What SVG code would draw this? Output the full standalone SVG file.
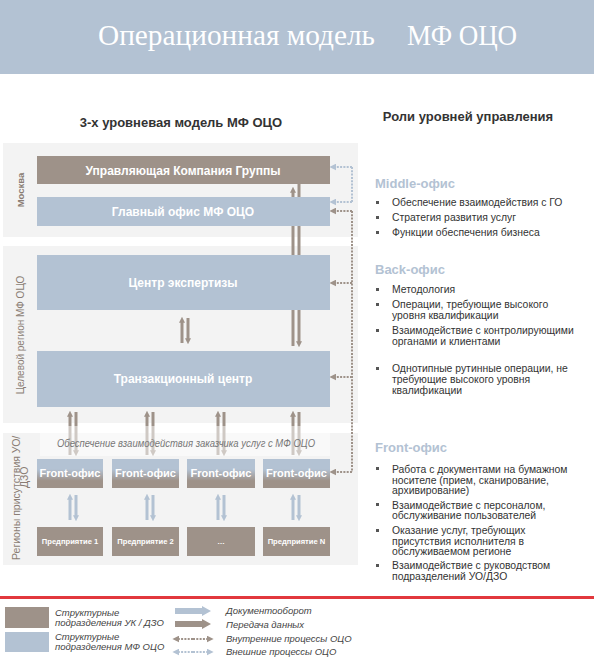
<svg xmlns="http://www.w3.org/2000/svg" width="594" height="665" viewBox="0 0 594 665">
<defs>
<style>
.sans{font-family:"Liberation Sans",Arial,sans-serif}
.band{fill:#f3f3f3}
.brown{fill:#9e9289}
.blue{fill:#b3c2d3}
.btxt{font-family:"Liberation Sans",Arial,sans-serif;font-weight:bold;fill:#fff;text-anchor:middle}
.side{font-family:"Liberation Sans",Arial,sans-serif;fill:#8a7d74}
.role{font-family:"Liberation Sans",Arial,sans-serif;font-size:10.4px;fill:#333}
.rhead{font-family:"Liberation Sans",Arial,sans-serif;font-size:13px;font-weight:bold;fill:#b3c2d3}
.bul{fill:#555}
.lb{stroke:#9e9289;stroke-width:3;fill:none}
.ll{stroke:#b3c2d3;stroke-width:3;fill:none}
.db{stroke:#9e9289;stroke-width:2;stroke-dasharray:2 1.3;fill:none}
.dl{stroke:#b3c2d3;stroke-width:2;stroke-dasharray:2 1.3;fill:none}
.leg{font-family:"Liberation Sans",Arial,sans-serif;font-size:9.5px;font-style:italic;fill:#444}
</style>
<linearGradient id="fg" x1="0" y1="0" x2="0" y2="1">
<stop offset="0" stop-color="#b3c2d3"/>
<stop offset="0.35" stop-color="#b3c2d3"/>
<stop offset="0.75" stop-color="#9e9289"/>
<stop offset="1" stop-color="#9e9289"/>
</linearGradient>
<marker id="aB" viewBox="0 0 10 10" refX="3" refY="5" markerWidth="6" markerHeight="6" markerUnits="userSpaceOnUse" orient="auto"><path d="M0,0 L10,5 L0,10 z" fill="#9e9289"/></marker>
<marker id="aL" viewBox="0 0 10 10" refX="3" refY="5" markerWidth="6" markerHeight="6" markerUnits="userSpaceOnUse" orient="auto"><path d="M0,0 L10,5 L0,10 z" fill="#b3c2d3"/></marker>
<marker id="dB" viewBox="0 0 10 10" refX="2" refY="5" markerWidth="7" markerHeight="7" markerUnits="userSpaceOnUse" orient="auto"><path d="M0,0 L10,5 L0,10 z" fill="#9e9289"/></marker>
<marker id="dL" viewBox="0 0 10 10" refX="2" refY="5" markerWidth="7" markerHeight="7" markerUnits="userSpaceOnUse" orient="auto"><path d="M0,0 L10,5 L0,10 z" fill="#b3c2d3"/></marker>
</defs>

<g id="header">
<rect x="0" y="0" width="594" height="74" fill="#b3c2d3"/>
<text x="98" y="45" font-family="'Liberation Serif','Times New Roman',serif" font-size="30" fill="#fff" textLength="277" lengthAdjust="spacingAndGlyphs">Операционная модель</text>
<text x="407" y="45" font-family="'Liberation Serif','Times New Roman',serif" font-size="30" fill="#fff" textLength="110" lengthAdjust="spacingAndGlyphs">МФ ОЦО</text>
</g>

<g id="headings" class="sans" font-weight="bold" font-size="13" fill="#333">
<text x="181" y="127" text-anchor="middle">3-х уровневая модель МФ ОЦО</text>
<text x="468" y="121" text-anchor="middle">Роли уровней управления</text>
</g>

<g id="bands">
<rect class="band" x="3" y="143" width="355" height="94"/>
<rect class="band" x="3" y="246" width="355" height="177"/>
<rect class="band" x="3" y="433" width="355" height="132"/>
<text class="side" transform="translate(24,190) rotate(-90)" font-size="9.5" font-weight="bold" text-anchor="middle">Москва</text>
<text class="side" transform="translate(24,335) rotate(-90)" font-size="10" text-anchor="middle">Целевой регион  МФ ОЦО</text>
<text class="side" transform="translate(20,560) rotate(-90)" font-size="10.5" fill="#8a8580">Регионы присутствия УО/</text>
<text class="side" transform="translate(28,488) rotate(-90)" font-size="10.5" fill="#8a8580">ДЗО</text>
</g>

<g id="connectors">
<line class="lb" x1="293" y1="346" x2="293" y2="191" marker-end="url(#aB)"/>
<line class="lb" x1="299" y1="176" x2="299" y2="343" marker-end="url(#aB)"/>
<line class="lb" x1="182" y1="343" x2="182" y2="321" marker-end="url(#aB)"/>
<line class="lb" x1="188" y1="318" x2="188" y2="340" marker-end="url(#aB)"/>
<line class="lb" x1="70" y1="455" x2="70" y2="415" marker-end="url(#aB)"/>
<line class="lb" x1="76" y1="412" x2="76" y2="452" marker-end="url(#aB)"/>
<line class="lb" x1="147" y1="455" x2="147" y2="415" marker-end="url(#aB)"/>
<line class="lb" x1="153" y1="412" x2="153" y2="452" marker-end="url(#aB)"/>
<line class="lb" x1="218" y1="455" x2="218" y2="415" marker-end="url(#aB)"/>
<line class="lb" x1="224" y1="412" x2="224" y2="452" marker-end="url(#aB)"/>
<line class="lb" x1="293" y1="455" x2="293" y2="415" marker-end="url(#aB)"/>
<line class="lb" x1="299" y1="412" x2="299" y2="452" marker-end="url(#aB)"/>
<line class="ll" x1="70" y1="520" x2="70" y2="498" marker-end="url(#aL)"/>
<line class="ll" x1="76" y1="495" x2="76" y2="517" marker-end="url(#aL)"/>
<line class="ll" x1="147" y1="520" x2="147" y2="498" marker-end="url(#aL)"/>
<line class="ll" x1="153" y1="495" x2="153" y2="517" marker-end="url(#aL)"/>
<line class="ll" x1="218" y1="520" x2="218" y2="498" marker-end="url(#aL)"/>
<line class="ll" x1="224" y1="495" x2="224" y2="517" marker-end="url(#aL)"/>
<line class="ll" x1="293" y1="520" x2="293" y2="498" marker-end="url(#aL)"/>
<line class="ll" x1="299" y1="495" x2="299" y2="517" marker-end="url(#aL)"/>
<path class="dl" d="M352,167 L352,202"/>
<line class="dl" x1="352" y1="167" x2="335" y2="167" marker-end="url(#dL)"/>
<line class="dl" x1="352" y1="202" x2="335" y2="202" marker-end="url(#dL)"/>
<path class="db" d="M352,211 L352,472"/>
<line class="db" x1="352" y1="211" x2="335" y2="211" marker-end="url(#dB)"/>
<line class="db" x1="352" y1="283" x2="335" y2="283" marker-end="url(#dB)"/>
<line class="db" x1="352" y1="377" x2="335" y2="377" marker-end="url(#dB)"/>
<line class="db" x1="352" y1="472" x2="335" y2="472" marker-end="url(#dB)"/>
</g>

<g id="uk">
<rect class="brown" x="37" y="156" width="293" height="28"/>
<text class="btxt" x="183" y="175" font-size="12">Управляющая Компания Группы</text>
</g>
<g id="go">
<rect class="blue" x="37" y="197" width="293" height="29"/>
<text class="btxt" x="183" y="216" font-size="12">Главный офис МФ ОЦО</text>
</g>
<g id="expertise">
<rect class="blue" x="37" y="255" width="293" height="55"/>
<text class="btxt" x="183" y="287" font-size="12">Центр экспертизы</text>
</g>
<g id="transaction">
<rect class="blue" x="37" y="351" width="293" height="56"/>
<text class="btxt" x="183" y="383" font-size="12">Транзакционный центр</text>
</g>

<g id="provision-label">
<rect x="40" y="426" width="290" height="30" fill="#fff" fill-opacity="0.5"/>
<text class="sans" x="186" y="447" font-size="10" font-style="italic" fill="#777" text-anchor="middle" textLength="258" lengthAdjust="spacingAndGlyphs">Обеспечение взаимодействия заказчика услуг с МФ ОЦО</text>
</g>

<g id="front1"><rect x="37" y="459" width="66" height="29" fill="url(#fg)"/><text class="btxt" x="70" y="477" font-size="11">Front-офис</text></g>
<g id="front2"><rect x="112" y="459" width="67" height="29" fill="url(#fg)"/><text class="btxt" x="145.5" y="477" font-size="11">Front-офис</text></g>
<g id="front3"><rect x="187" y="459" width="68" height="29" fill="url(#fg)"/><text class="btxt" x="221" y="477" font-size="11">Front-офис</text></g>
<g id="front4"><rect x="263" y="459" width="67" height="29" fill="url(#fg)"/><text class="btxt" x="296.5" y="477" font-size="11">Front-офис</text></g>

<g id="ent1"><rect class="brown" x="37" y="527" width="66" height="29"/><text class="btxt" x="70" y="544" font-size="7.6">Предприятие 1</text></g>
<g id="ent2"><rect class="brown" x="112" y="527" width="67" height="29"/><text class="btxt" x="145.5" y="544" font-size="7.6">Предприятие 2</text></g>
<g id="ent3"><rect class="brown" x="187" y="527" width="68" height="29"/><text class="btxt" x="221" y="544" font-size="7.6">…</text></g>
<g id="entN"><rect class="brown" x="263" y="527" width="67" height="29"/><text class="btxt" x="296.5" y="544" font-size="7.6">Предприятие N</text></g>

<g id="roles">
<text class="rhead" x="375" y="188">Middle-офис</text>
<rect class="bul" x="376" y="201" width="3" height="3"/>
<rect class="bul" x="376" y="216" width="3" height="3"/>
<rect class="bul" x="376" y="231" width="3" height="3"/>
<text class="role" x="392" y="206">Обеспечение  взаимодействия с ГО</text>
<text class="role" x="392" y="221">Стратегия развития услуг</text>
<text class="role" x="392" y="236">Функции обеспечения бизнеса</text>

<text class="rhead" x="375" y="274">Back-офис</text>
<rect class="bul" x="376" y="288" width="3" height="3"/>
<rect class="bul" x="376" y="303" width="3" height="3"/>
<rect class="bul" x="376" y="329" width="3" height="3"/>
<rect class="bul" x="376" y="367" width="3" height="3"/>
<text class="role" x="392" y="293">Методология</text>
<text class="role" x="392" y="308">Операции, требующие высокого</text>
<text class="role" x="392" y="319">уровня квалификации</text>
<text class="role" x="392" y="334">Взаимодействие с контролирующими</text>
<text class="role" x="392" y="345">органами и клиентами</text>
<text class="role" x="392" y="372">Однотипные рутинные операции, не</text>
<text class="role" x="392" y="383">требующие высокого уровня</text>
<text class="role" x="392" y="394">квалификации</text>

<text class="rhead" x="375" y="452">Front-офис</text>
<rect class="bul" x="376" y="467" width="3" height="3"/>
<rect class="bul" x="376" y="503" width="3" height="3"/>
<rect class="bul" x="376" y="529" width="3" height="3"/>
<rect class="bul" x="376" y="564" width="3" height="3"/>
<text class="role" x="392" y="473">Работа с документами на бумажном</text>
<text class="role" x="392" y="483.5">носителе (прием, сканирование,</text>
<text class="role" x="392" y="494">архивирование)</text>
<text class="role" x="392" y="508.5">Взаимодействие с персоналом,</text>
<text class="role" x="392" y="519">обслуживание пользователей</text>
<text class="role" x="392" y="534">Оказание услуг, требующих</text>
<text class="role" x="392" y="544.5">присутствия исполнителя в</text>
<text class="role" x="392" y="555">обслуживаемом регионе</text>
<text class="role" x="392" y="569">Взаимодействие с руководством</text>
<text class="role" x="392" y="579.5">подразделений УО/ДЗО</text>
</g>

<g id="divider">
<rect x="0" y="596" width="594" height="3" fill="#e2383d"/>
</g>

<g id="legend">
<rect class="brown" x="5" y="607" width="44" height="21"/>
<rect class="blue" x="5" y="632" width="44" height="20"/>
<text class="leg" x="55" y="616">Структурные</text>
<text class="leg" x="55" y="625.5">подразделения УК / ДЗО</text>
<text class="leg" x="55" y="640">Структурные</text>
<text class="leg" x="55" y="649.5">подразделения МФ ОЦО</text>
<path d="M175,608 L202,608 L202,606 L211,611 L202,616 L202,614 L175,614 z" fill="#b3c2d3"/>
<path d="M175,621 L202,621 L202,619 L211,624 L202,629 L202,627 L175,627 z" fill="#9e9289"/>
<line class="db" x1="193" y1="639" x2="178" y2="639" marker-end="url(#dB)"/>
<line class="db" x1="193" y1="639" x2="208" y2="639" marker-end="url(#dB)"/>
<line class="dl" x1="193" y1="652" x2="178" y2="652" marker-end="url(#dL)"/>
<line class="dl" x1="193" y1="652" x2="208" y2="652" marker-end="url(#dL)"/>
<text class="leg" x="226" y="614" font-size="10">Документооборот</text>
<text class="leg" x="226" y="628" font-size="10">Передача данных</text>
<text class="leg" x="226" y="642" font-size="10">Внутренние процессы ОЦО</text>
<text class="leg" x="226" y="655" font-size="10">Внешние процессы ОЦО</text>
</g>
</svg>
